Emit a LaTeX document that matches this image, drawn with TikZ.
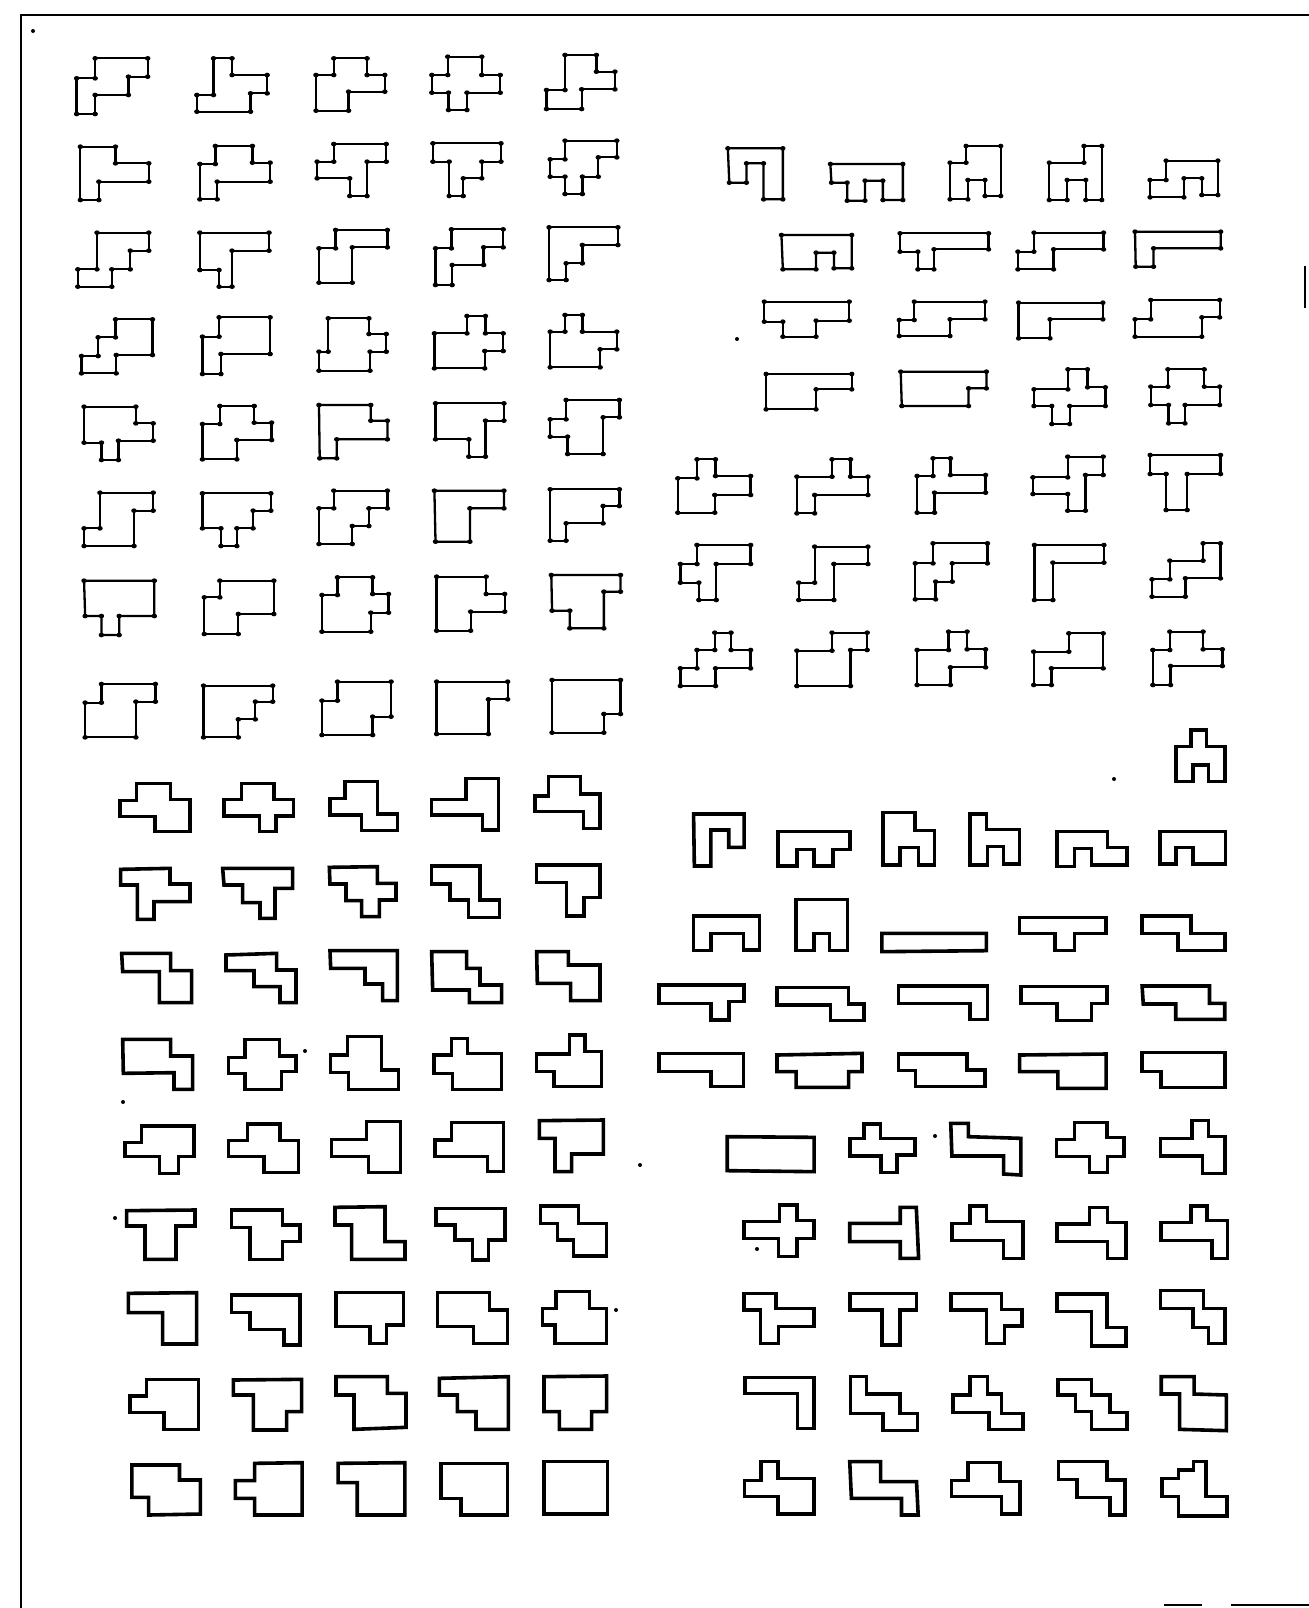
\documentclass[tikz,border=0pt]{standalone}
\begin{document}
\begin{tikzpicture}[x=0.5pt,y=-0.5pt,
  topline/.style={line width=1.15pt,line join=miter},
  botline/.style={line width=1.8pt,line join=miter},
  framel/.style={line width=1.1pt}]
\useasboundingbox (0,0) rectangle (1309,1608);
\newcommand\tpoly[2]{\draw[topline] (#1) \foreach \x/\y in {#2}{ -- (\x,\y)} -- cycle;
  \fill (#1) ellipse [x radius=7.5, y radius=7];
  \foreach \x/\y in {#2}{\fill (\x,\y) ellipse [x radius=7.5, y radius=7];}}
\newcommand\bpoly[2]{\draw[botline] (#1) \foreach \x/\y in {#2}{ -- (\x,\y)} -- cycle;}
% frame
\draw[framel] (21,1608) -- (21,15) -- (1309,15);
\draw[framel] (1305,266) -- (1305,308);
\draw[framel] (1164,1605) -- (1202,1605);
\draw[framel] (1231,1605) -- (1309,1605);
% stray dots
\foreach \p in {(33,31),(737,339),(1114,779),(305,1051),(123,1102),(115,1218),(616,1310),(935,1136),(640,1165),(757,1249)}
  \fill \p circle [radius=2];
% ---------- top left, rows 1-3
\begin{scope}[shift={(60,40)},xscale=0.36996,yscale=0.33333]
\tpoly{95,55}{237/55,237/110,185/110,185/165,95/165,95/222,45/222,45/115,95/115}
\tpoly{415,55}{465/55,465/105,560/105,560/160,515/160,515/215,370/215,370/165,415/165}
\tpoly{740,55}{830/55,830/105,878/105,878/155,780/155,780/212,692/212,692/105,740/105}
\tpoly{1048,50}{1140/50,1140/105,1190/105,1190/158,1100/158,1100/210,1050/210,1050/158,1005/158,1005/105,1048/105}
\tpoly{1365,45}{1450/45,1450/95,1500/95,1500/148,1410/148,1410/207,1315/207,1315/150,1365/150}
\tpoly{55,320}{150/320,150/370,240/370,240/425,105/425,105/480,55/480}
\tpoly{420,318}{520/318,520/368,568/368,568/425,425/425,425/478,378/478,378/372,420/372}
\tpoly{740,312}{882/312,882/365,830/365,830/468,783/468,783/415,695/415,695/365,740/365}
\tpoly{1008,310}{1192/310,1192/365,1140/365,1140/415,1090/415,1090/468,1052/468,1052/365,1008/365}
\tpoly{1365,302}{1505/302,1505/352,1455/352,1455/410,1412/410,1412/462,1365/462,1365/410,1325/410,1325/358,1365/358}
\tpoly{100,578}{240/578,240/632,190/632,190/688,140/688,140/740,48/740,48/688,100/688}
\tpoly{378,578}{565/578,565/632,465/632,465/740,430/740,430/690,378/690}
\tpoly{745,570}{885/570,885/622,790/622,790/728,700/728,700/625,745/625}
\tpoly{1058,568}{1198/568,1198/622,1145/622,1145/675,1060/675,1060/735,1015/735,1015/625,1058/625}
\tpoly{1322,562}{1508/562,1508/615,1412/615,1412/670,1368/670,1368/720,1322/720}
\end{scope}
% ---------- top left, rows 4-6
\begin{scope}[shift={(60,290)},xscale=0.36996,yscale=0.33333]
\tpoly{150,88}{250/88,250/195,152/195,152/250,58/250,58/198,103/198,103/142,150/142}
\tpoly{430,82}{568/82,568/192,435/192,435/252,385/252,385/140,430/140}
\tpoly{725,85}{835/85,835/132,882/132,882/185,838/185,838/242,700/242,700/185,725/185}
\tpoly{1100,78}{1150/78,1150/130,1198/130,1198/183,1148/183,1148/235,1012/235,1012/130,1100/130}
\tpoly{1365,75}{1412/75,1412/125,1505/125,1505/178,1460/178,1460/232,1325/232,1325/125,1365/125}
\tpoly{65,350}{205/350,205/400,252/400,252/452,158/452,158/510,112/510,112/458,65/458}
\tpoly{432,348}{525/348,525/398,572/398,572/450,478/450,478/508,385/508,385/402,432/402}
\tpoly{700,345}{840/345,840/392,885/392,885/448,748/448,748/505,702/505}
\tpoly{1015,340}{1200/340,1200/392,1150/392,1150/500,1105/500,1105/448,1015/448}
\tpoly{1368,330}{1512/330,1512/382,1468/382,1468/492,1372/492,1372/440,1325/440,1325/388,1368/388}
\tpoly{108,608}{252/608,252/662,200/662,200/768,65/768,65/715,108/715}
\tpoly{385,610}{570/610,570/662,522/662,522/715,478/715,478/768,435/768,435/715,385/715}
\tpoly{740,602}{885/602,885/655,835/655,835/708,790/708,790/762,700/762,700/655,740/655}
\tpoly{1012,602}{1200/602,1200/655,1108/655,1108/755,1015/755}
\tpoly{1325,598}{1512/598,1512/648,1468/648,1468/700,1368/700,1368/752,1325/752}
\end{scope}
% ---------- top left, rows 7-8
\begin{scope}[shift={(60,540)},xscale=0.36996,yscale=0.33333]
\tpoly{65,122}{255/122,255/228,160/228,160/285,112/285,112/228,68/228}
\tpoly{432,122}{578/122,578/222,482/222,482/282,390/282,390/172,432/172}
\tpoly{750,112}{845/112,845/162,888/162,888/218,840/218,840/275,708/275,708/165,750/165}
\tpoly{1018,110}{1152/110,1152/162,1202/162,1202/215,1110/215,1110/272,1018/272}
\tpoly{1328,105}{1515/105,1515/155,1470/155,1470/265,1378/265,1378/212,1330/212}
\tpoly{112,432}{258/432,258/485,205/485,205/592,68/592,68/488,112/488}
\tpoly{388,437}{575/437,575/485,528/485,528/538,482/538,482/592,388/592}
\tpoly{750,425}{895/425,895/530,845/530,845/585,708/585,708/482,750/482}
\tpoly{1018,425}{1210/425,1210/478,1158/478,1158/582,1018/582}
\tpoly{1330,420}{1515/420,1515/522,1470/522,1470/578,1330/578}
\end{scope}
% ---------- top right, rows 1-4
\begin{scope}[shift={(700,120)},xscale=0.35714,yscale=0.33333]
\tpoly{78,85}{232/85,232/238,178/238,178/130,130/130,130/188,82/188}
\tpoly{365,132}{568/132,568/240,512/240,512/182,462/182,462/242,412/242,412/188,368/188}
\tpoly{745,78}{842/78,842/228,798/228,798/180,750/180,750/238,700/238,700/128,745/128}
\tpoly{1075,78}{1125/78,1125/240,1080/240,1080/180,1028/180,1028/240,978/240,978/128,1075/128}
\tpoly{1305,122}{1450/122,1450/225,1405/225,1405/175,1355/175,1355/232,1260/232,1260/180,1305/180}
\tpoly{228,345}{425/345,425/445,375/445,375/398,325/398,325/448,232/448}
\tpoly{560,340}{808/340,808/388,655/388,655/448,610/448,610/395,560/395}
\tpoly{935,338}{1130/338,1130/388,990/388,990/448,890/448,890/395,935/395}
\tpoly{1218,335}{1458/335,1458/385,1270/385,1270/440,1220/440}
\tpoly{180,545}{418/545,418/602,325/602,325/650,232/650,232/605,180/605}
\tpoly{600,545}{798/545,798/598,700/598,700/648,558/648,558/600,600/600}
\tpoly{892,548}{1128/548,1128/598,980/598,980/655,892/655}
\tpoly{1262,540}{1455/540,1455/592,1405/592,1405/650,1218/650,1218/598,1262/598}
\tpoly{185,762}{425/762,425/808,325/808,325/868,185/868}
\tpoly{562,755}{802/755,802/805,752/805,752/858,565/858}
\tpoly{1030,748}{1085/748,1085/802,1135/802,1135/858,1035/858,1035/912,985/912,985/858,935/858,935/808,1030/808}
\tpoly{1310,748}{1412/748,1412/800,1455/800,1455/855,1358/855,1358/910,1312/910,1312/855,1262/855,1262/800,1310/800}
\end{scope}
% ---------- top right, rows 5-7
\begin{scope}[shift={(660,420)},xscale=0.36996,yscale=0.33333]
\tpoly{100,118}{150/118,150/168,245/168,245/225,148/225,148/278,48/278,48/175,100/175}
\tpoly{465,118}{515/118,515/170,562/170,562/225,418/225,418/280,370/280,370/170,465/170}
\tpoly{738,115}{785/115,785/165,880/165,880/218,742/218,742/278,695/278,695/168,738/168}
\tpoly{1102,110}{1198/110,1198/165,1150/165,1150/272,1102/272,1102/222,1008/222,1008/172,1102/172}
\tpoly{1325,105}{1515/105,1515/162,1425/162,1425/270,1368/270,1368/162,1325/162}
\tpoly{100,375}{245/375,245/432,152/432,152/540,105/540,105/488,55/488,55/432,100/432}
\tpoly{418,380}{562/380,562/432,470/432,470/540,375/540,375/488,418/488}
\tpoly{738,370}{885/370,885/430,790/430,790/485,745/485,745/538,690/538,690/430,738/430}
\tpoly{1012,375}{1200/375,1200/428,1062/428,1062/540,1012/540}
\tpoly{1468,370}{1515/370,1515/475,1420/475,1420/530,1330/530,1330/478,1378/478,1378/422,1468/422}
\tpoly{148,638}{192/638,192/690,245/690,245/745,150/745,150/798,55/798,55/745,100/745,100/690,148/690}
\tpoly{465,638}{560/638,560/690,515/690,515/798,370/798,370/692,465/692}
\tpoly{780,635}{830/635,830/688,880/688,880/742,785/742,785/795,695/795,695/690,780/690}
\tpoly{1105,640}{1198/640,1198/745,1058/745,1058/795,1010/795,1010/695,1105/695}
\tpoly{1378,635}{1468/635,1468/688,1520/688,1520/738,1380/738,1380/795,1332/795,1332/690,1378/690}
\end{scope}
% ---------- bottom left rows 1-3
\begin{scope}[shift={(100,760)},xscale=0.33333,yscale=0.33333]
\bpoly{110,70}{212/70,212/118,270/118,270/215,165/215,165/170,60/170,60/122,110/122}
\bpoly{425,70}{522/70,522/118,580/118,580/168,528/168,528/215,478/215,478/168,372/168,372/118,425/118}
\bpoly{735,65}{832/65,832/162,892/162,892/212,785/212,785/165,690/165,690/115,735/115}
\bpoly{1098,55}{1195/55,1195/210,1148/210,1148/165,995/165,995/118,1098/118}
\bpoly{1345,50}{1442/50,1442/102,1500/102,1500/205,1450/205,1450/155,1305/155,1305/108,1345/108}
\bpoly{62,328}{210/325,210/372,270/372,270/425,162/425,162/478,112/478,112/375,62/375}
\bpoly{368,325}{578/325,578/385,525/385,525/475,480/475,480/428,428/428,428/375,372/375}
\bpoly{688,322}{832/320,832/370,888/370,888/420,838/420,838/470,785/470,785/422,738/422,738/372,690/372}
\bpoly{995,318}{1140/318,1140/420,1198/420,1198/472,1105/472,1105/420,1050/420,1050/372,995/372}
\bpoly{1310,315}{1500/315,1500/412,1452/412,1452/468,1400/468,1400/368,1310/368}
\bpoly{65,580}{212/580,212/632,275/632,275/728,178/728,178/635,68/635}
\bpoly{378,585}{530/580,530/630,588/630,588/728,540/728,540/680,462/680,462/632,378/632}
\bpoly{690,572}{892/572,892/722,848/722,848/672,795/672,795/625,692/625}
\bpoly{995,575}{1100/575,1100/625,1140/625,1140/675,1205/675,1205/728,1108/728,1108/690,998/690}
\bpoly{1310,575}{1405/575,1405/615,1500/615,1500/722,1412/722,1412/670,1312/670}
\end{scope}
% ---------- bottom left rows 4-6
\begin{scope}[shift={(100,990)},xscale=0.33333,yscale=0.33333]
\bpoly{68,148}{212/148,212/198,278/198,278/298,222/298,222/248,70/250}
\bpoly{435,148}{538/148,538/198,588/198,588/245,545/245,545/298,435/298,435/250,385/250,385/202,435/202}
\bpoly{742,140}{845/140,845/240,895/240,895/298,745/298,745/248,692/248,692/195,742/195}
\bpoly{1055,145}{1102/145,1102/190,1205/190,1205/298,1058/298,1058/250,1002/250,1002/195,1055/195}
\bpoly{1408,135}{1455/135,1455/185,1505/185,1505/290,1362/290,1362/245,1310/245,1310/192,1408/192}
\bpoly{125,408}{282/408,282/500,235/500,235/550,178/550,178/500,75/500,75/458,125/458}
\bpoly{442,402}{540/402,540/452,595/452,595/548,492/548,492/500,385/500,385/452,442/452}
\bpoly{800,395}{902/395,902/548,805/548,805/500,695/500,695/448,800/448}
\bpoly{1055,398}{1210/398,1210/545,1162/545,1162/500,1005/500,1005/450,1055/450}
\bpoly{1318,392}{1510/390,1510/492,1415/492,1415/545,1365/545,1365/445,1318/445}
\bpoly{80,662}{285/660,285/708,228/708,228/808,135/808,135/708,80/708}
\bpoly{395,660}{548/660,548/705,600/705,600/755,548/755,548/808,450/808,450/712,395/712}
\bpoly{705,652}{855/650,855/755,915/755,915/808,755/808,755/705,705/705}
\bpoly{1008,655}{1215/655,1215/750,1165/750,1165/810,1118/810,1118/750,1065/750,1065/705,1008/705}
\bpoly{1322,648}{1435/648,1435/700,1520/700,1520/798,1420/798,1420/750,1372/750,1372/700,1322/700}
\end{scope}
% ---------- bottom left rows 7-8
\begin{scope}[shift={(100,1230)},xscale=0.33333,yscale=0.33333]
\bpoly{85,190}{290/188,290/342,188/342,188/248,85/248}
\bpoly{395,195}{600/195,600/345,552/345,552/298,450/298,450/248,395/248}
\bpoly{708,188}{910/188,910/285,860/285,860/340,810/340,810/290,708/290}
\bpoly{1012,188}{1168/188,1168/240,1222/240,1222/340,1120/340,1120/290,1012/290}
\bpoly{1368,185}{1468/185,1468/235,1520/235,1520/340,1365/340,1365/285,1328/285,1328/235,1368/235}
\bpoly{140,448}{295/448,295/598,192/598,192/548,90/548,90/498,140/498}
\bpoly{400,450}{605/448,605/545,560/545,560/600,460/600,460/495,400/495}
\bpoly{708,440}{862/440,862/490,918/490,918/592,762/598,762/495,708/495}
\bpoly{1018,445}{1225/440,1225/598,1128/598,1128/545,1072/545,1072/495,1018/495}
\bpoly{1332,440}{1520/438,1520/545,1475/545,1475/598,1378/598,1378/545,1332/545}
\end{scope}
% ---------- last row (both halves)
\begin{scope}[shift={(0,1450)},xscale=0.83472,yscale=0.33333]
\bpoly{158,45}{215/45,215/90,240/90,240/192,178/195,178/142,158/142}
\bpoly{305,40}{362/38,362/195,305/195,305/145,282/145,282/92,305/92}
\bpoly{405,40}{485/38,485/195,428/195,428/98,405/98}
\bpoly{528,40}{608/40,608/195,552/195,552/145,528/145}
\bpoly{652,35}{728/35,728/192,652/192}
\bpoly{912,35}{932/35,932/85,975/85,975/192,932/192,932/140,892/140,892/92,912/92}
\bpoly{1018,35}{1055/35,1055/95,1098/95,1100/195,1080/195,1080/145,1020/145}
\bpoly{1160,38}{1198/38,1198/95,1222/95,1222/192,1200/192,1200/140,1140/140,1140/92,1160/92}
\bpoly{1268,35}{1326/35,1326/90,1348/90,1348/195,1330/195,1330/142,1290/142,1290/88,1268/88}
\bpoly{1430,35}{1445/35,1445/140,1470/140,1470/198,1412/198,1412/140,1392/140,1392/85,1412/85,1412/60,1430/60}
\end{scope}
% ---------- bottom right rows 0-3
\begin{scope}[shift={(640,720)},xscale=0.3827,yscale=0.33333]
\bpoly{1440,30}{1480/30,1480/80,1528/80,1528/185,1485/185,1485/135,1445/135,1445/185,1400/185,1400/80,1440/80}
\bpoly{140,282}{272/282,272/382,232/382,232/330,185/330,185/438,142/438}
\bpoly{360,335}{548/335,548/388,505/388,505/438,455/438,455/388,410/388,410/438,360/438}
\bpoly{635,278}{718/278,718/332,770/332,770/435,728/435,728/382,680/382,680/435,635/435}
\bpoly{862,282}{905/282,905/328,992/328,992/432,950/432,950/380,908/380,908/435,862/435}
\bpoly{1090,335}{1222/335,1222/382,1272/382,1272/435,1180/435,1180/385,1135/385,1135/440,1090/440}
\bpoly{1358,335}{1530/335,1530/432,1445/432,1445/382,1400/382,1400/432,1358/432}
\bpoly{140,588}{312/588,312/690,270/690,270/640,185/640,185/692,140/692}
\bpoly{408,538}{542/538,542/692,495/692,495/640,455/640,455/692,408/692}
\bpoly{632,640}{905/640,905/692,632/695}
\bpoly{992,592}{1218/592,1218/640,1135/640,1135/692,1085/692,1085/640,992/640}
\bpoly{1312,588}{1440/588,1440/640,1528/640,1528/692,1405/692,1405/640,1312/640}
\bpoly{50,795}{272/795,272/845,232/845,232/900,185/900,185/850,50/850}
\bpoly{358,802}{545/802,545/852,585/852,585/902,498/902,498/855,358/855}
\bpoly{675,798}{908/798,908/898,862/898,862/850,675/850}
\bpoly{995,800}{1220/800,1220/850,1180/850,1180/902,1090/902,1090/850,995/850}
\bpoly{1312,798}{1488/798,1488/850,1528/850,1528/898,1400/898,1400/852,1315/852}
\end{scope}
% ---------- bottom right rows 4-6
\begin{scope}[shift={(640,990)},xscale=0.3827,yscale=0.33333]
\bpoly{50,190}{270/190,270/290,185/290,185/245,50/245}
\bpoly{358,195}{580/190,580/245,545/245,545/292,408/292,408/245,358/245}
\bpoly{675,192}{855/192,855/240,902/240,902/290,720/290,720/242,675/242}
\bpoly{992,195}{1218/192,1218/295,1092/295,1092/245,992/245}
\bpoly{1312,188}{1528/188,1528/292,1362/292,1362/245,1312/245}
\bpoly{228,440}{455/442,455/545,228/542}
\bpoly{585,402}{628/402,628/445,718/445,718/495,672/495,672/548,630/548,630/498,548/498,548/445,585/445}
\bpoly{812,400}{858/400,858/440,995/445,995/555,950/552,950/498,815/498}
\bpoly{1135,398}{1220/398,1220/442,1265/442,1265/500,1222/500,1222/548,1175/548,1175/500,1088/500,1088/448,1135/448}
\bpoly{1442,392}{1485/392,1485/440,1528/440,1528/550,1470/550,1470/498,1360/498,1360/445,1442/445}
\bpoly{365,645}{410/645,410/692,455/692,455/745,410/745,410/800,362/800,362/745,272/745,272/695,365/695}
\bpoly{680,652}{722/652,728/805,680/805,680/755,548/755,548/700,680/700}
\bpoly{862,648}{905/648,905/695,1000/695,1000/805,950/805,950/752,815/752,815/700,862/700}
\bpoly{1175,652}{1222/652,1222/698,1270/698,1270/805,1222/805,1222/755,1090/755,1090/702,1175/702}
\bpoly{1440,648}{1482/648,1482/692,1535/692,1535/805,1495/805,1495/752,1362/752,1362/697,1440/697}
\end{scope}
% ---------- bottom right rows 7-8
\begin{scope}[shift={(640,1220)},xscale=0.3827,yscale=0.33333]
\bpoly{272,220}{355/220,355/265,455/265,455/320,362/320,362/370,315/370,315/270,272/270}
\bpoly{548,220}{722/220,722/270,680/270,680/375,632/375,632/270,548/270}
\bpoly{812,220}{945/220,945/268,998/268,998/318,952/318,952/370,905/370,905/270,812/270}
\bpoly{1090,222}{1220/222,1220/322,1270/322,1270/378,1180/378,1180/275,1090/275}
\bpoly{1360,212}{1472/212,1472/265,1528/265,1528/370,1485/370,1485/322,1445/322,1445/265,1360/265}
\bpoly{275,472}{455/472,455/625,412/625,412/520,275/520}
\bpoly{550,470}{592/470,592/522,680/522,680/580,725/580,725/632,635/632,635/580,550/580}
\bpoly{862,470}{908/470,908/522,945/522,945/580,1000/580,1000/628,912/628,912/578,818/578,818/525,862/525}
\bpoly{1092,478}{1180/478,1180/525,1228/525,1228/578,1272/578,1272/628,1180/628,1180/575,1138/575,1138/525,1092/525}
\bpoly{1362,470}{1448/470,1448/522,1532/525,1532/632,1410/628,1410/522,1362/522}
\end{scope}
\end{tikzpicture}
\end{document}
